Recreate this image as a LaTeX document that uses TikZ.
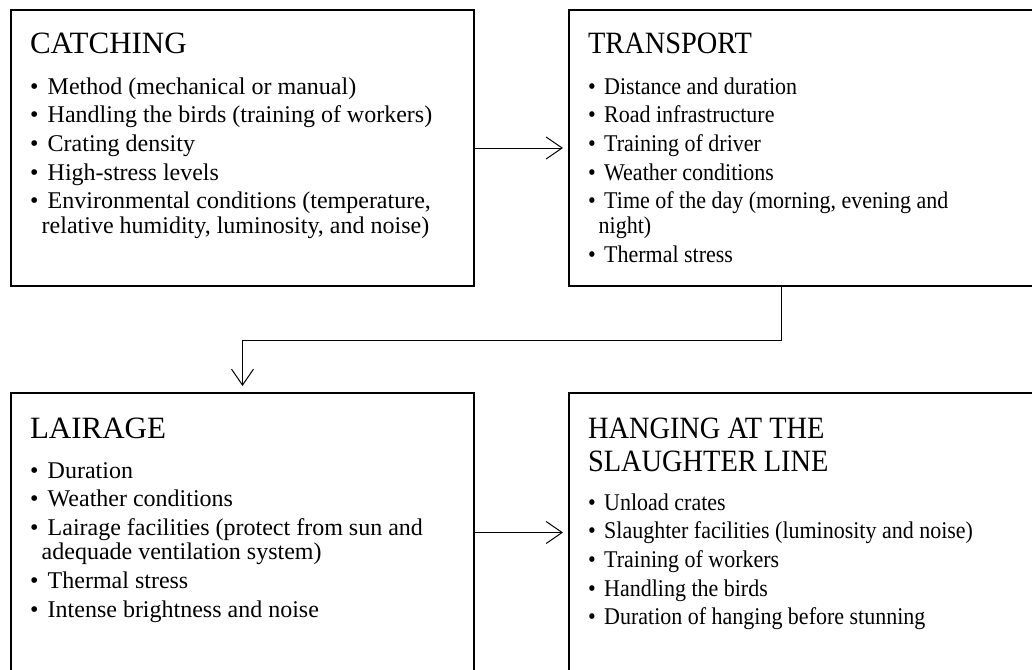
\documentclass[tikz,border=0pt]{standalone}
\usepackage{fontspec}
\setmainfont{Liberation Serif}
\usetikzlibrary{arrows.meta}
\newcommand\blk[1]{\vtop{\fontsize{24}{24.5}\selectfont\baselineskip=24.5pt\lineskiplimit=-100pt\relax #1}}
\newcommand\itm[1]{\hbox{\makebox[17.7pt][l]{•}#1}}
\newcommand\cnt[1]{\hbox{\hspace*{11.7pt}#1}}
\newcommand\gap{\vskip4.2pt\relax}
\newcommand\ttl[1]{\fontsize{31}{33}\selectfont #1}
\newcommand\sq[1]{\scalebox{0.916}[1]{#1}}
\tikzset{
  box/.style={draw=black, line width=2.4pt, rectangle, inner sep=0pt, outer sep=0pt, anchor=north west},
  txt/.style={anchor=base west, inner sep=0pt, outer sep=0pt, text=black},
  conn/.style={draw=black, line width=1pt, -{Straight Barb[length=16pt,width=22pt]}}
}
\begin{document}
\begin{tikzpicture}[x=1pt,y=-1pt]
\useasboundingbox (0,0) rectangle (1032,669);
\fill[white] (0,0) rectangle (1032,669);
\clip (0,0) rectangle (1032,669);

% boxes
\node[box, minimum width=463pt, minimum height=276pt] (catching) at (11,10) {};
\node[box, minimum width=471pt, minimum height=276pt] (transport) at (569,10) {};
\node[box, minimum width=463pt, minimum height=279pt] (lairage) at (11,393) {};
\node[box, minimum width=471pt, minimum height=279pt] (hanging) at (569,393) {};

% texts
\node[txt] (catchingT) at (30,54) {\ttl{CATCHING}};
\node[txt] (catchingL) at (30,94) {\blk{%
  \itm{Method (mechanical or manual)}\gap
  \itm{Handling the birds (training of workers)}\gap
  \itm{Crating density}\gap
  \itm{High-stress levels}\gap
  \itm{Environmental conditions (temperature,}
  \cnt{relative humidity, luminosity, and noise)}}};

\node[txt] (transportT) at (588,54) {\sq{\ttl{TRANSPORT}}};
\node[txt] (transportL) at (588,94) {\sq{\blk{%
  \itm{Distance and duration}\gap
  \itm{Road infrastructure}\gap
  \itm{Training of driver}\gap
  \itm{Weather conditions}\gap
  \itm{Time of the day (morning, evening and}
  \cnt{night)}\gap
  \itm{Thermal stress}}}};

\node[txt] (lairageT) at (30,438) {\ttl{LAIRAGE}};
\node[txt] (lairageL) at (30,478) {\blk{%
  \itm{Duration}\gap
  \itm{Weather conditions}\gap
  \itm{Lairage facilities (protect from sun and}
  \cnt{adequade ventilation system)}\gap
  \itm{Thermal stress}\gap
  \itm{Intense brightness and noise}}};

\node[txt] (hangingT) at (588,438) {\sq{\ttl{\vtop{\baselineskip=33pt\hbox{HANGING AT THE}\hbox{SLAUGHTER LINE}}}}};
\node[txt] (hangingL) at (588,510) {\sq{\blk{%
  \itm{Unload crates}\gap
  \itm{Slaughter facilities (luminosity and noise)}\gap
  \itm{Training of workers}\gap
  \itm{Handling the birds}\gap
  \itm{Duration of hanging before stunning}}}};

% connectors
\draw[conn, shorten >=6pt] (catching.east) -- (transport.west);
\coordinate (tdown) at ([xshift=212pt]transport.south west);
\draw[conn, shorten >=7pt] (tdown) -- ++(0,54) -| (lairage.north);
\draw[conn, shorten >=6pt] (lairage.east) -- (hanging.west);
\end{tikzpicture}
\end{document}
